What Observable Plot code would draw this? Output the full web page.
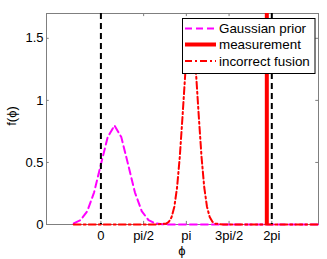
<!DOCTYPE html>
<html>
<head>
<meta charset="utf-8">
<script src="https://cdn.jsdelivr.net/npm/d3@7"></script>
<script src="https://cdn.jsdelivr.net/npm/@observablehq/plot@0.6"></script>
<style>
  html, body { margin: 0; padding: 0; background: #fff; }
  #chart { position: relative; width: 327px; height: 259px; }
  #chart > svg { position: absolute; left: 0; top: 0; }
</style>
</head>
<body>
<div id="chart"></div>
<script>
const xTicks = [0, Math.PI / 2, Math.PI, 3 * Math.PI / 2, 2 * Math.PI];
const xTickLabels = ["0", "pi/2", "pi", "3pi/2", "2pi"];
const yTicks = [0, 0.5, 1, 1.5];
const yTickLabels = ["0", "0.5", "1", "1.5"];

const priorX = [-1, -0.75, -0.5, -0.25, 0, 0.25, 0.5, 0.75, 1, 1.25, 1.5, 1.75, 2, 2.25, 2.5, 3, 4, 5, 6, 7, 8];
const priorY = [0.009, 0.035, 0.108, 0.259, 0.484, 0.704, 0.798, 0.704, 0.484, 0.259, 0.108, 0.035, 0.009, 0.002, 0, 0, 0, 0, 0, 0, 0];

const fusionX = [-1, 0, 1, 2, 2.4, 2.5, 2.6, 2.7, 2.8, 2.9, 3.0, 3.1, 3.2, 3.3, 3.4, 3.5, 3.6, 3.7, 3.8, 3.9, 4.0, 4.1, 4.2, 4.5, 5, 6, 7, 8];
const fusionY = [0, 0, 0, 0, 0.007, 0.022, 0.060, 0.143, 0.298, 0.544, 0.867, 1.210, 1.478, 1.58, 1.478, 1.210, 0.867, 0.544, 0.298, 0.143, 0.060, 0.022, 0.007, 0, 0, 0, 0, 0];

const measurementX = [6.1];
const boundaryX = [0, 2 * Math.PI];

const legendLabels = ["Gaussian prior", "measurement", "incorrect fusion"];
const xLabel = "ϕ";
const yLabel = "f(ϕ)";

const prior = priorX.map((x, i) => ({x, y: priorY[i]}));
const fusion = fusionX.map((x, i) => ({x, y: fusionY[i]}));

const FONT = "'Liberation Sans', Arial, Helvetica, sans-serif";
const axisGray = "#7f7f7f";

const plot = Plot.plot({
  width: 327,
  height: 259,
  marginLeft: 46,
  marginRight: 9,
  marginTop: 13,
  marginBottom: 35,
  style: {fontFamily: FONT, fontSize: "13px", color: "black", background: "white"},
  x: {domain: [-2, 8]},
  y: {domain: [0, 1.7]},
  marks: [
    Plot.frame({stroke: axisGray}),
    Plot.ruleX(xTicks, {y1: 0, y2: 0.025, stroke: axisGray}),
    Plot.ruleX(xTicks, {y1: 1.675, y2: 1.7, stroke: axisGray}),
    Plot.ruleY(yTicks, {x1: -2, x2: -1.9, stroke: axisGray}),
    Plot.ruleY(yTicks, {x1: 7.9, x2: 8, stroke: axisGray}),
    Plot.line(prior, {x: "x", y: "y", stroke: "#ff00ff", strokeWidth: 2, strokeDasharray: "7,4"}),
    Plot.line(fusion, {x: "x", y: "y", stroke: "#ff0000", strokeWidth: 2, strokeDasharray: "7,3,2,3"}),
    Plot.ruleX(measurementX, {stroke: "#ff0000", strokeWidth: 4}),
    Plot.ruleX(boundaryX, {stroke: "black", strokeWidth: 2, strokeDasharray: "6,4"}),
    Plot.axisX(xTicks, {tickSize: 0, tickPadding: 6, tickFormat: d => xTickLabels[xTicks.indexOf(d)], label: null}),
    Plot.axisY(yTicks, {tickSize: 0, tickPadding: 3, tickFormat: d => yTickLabels[yTicks.indexOf(d)], label: null})
  ]
});

const chart = document.getElementById("chart");
chart.appendChild(plot);

// overlay layer for axis titles and legend
const ov = d3.select(chart).append("svg")
  .attr("width", 327).attr("height", 259)
  .style("pointer-events", "none");

ov.append("text")
  .attr("x", 182).attr("y", 254.5)
  .attr("text-anchor", "middle")
  .attr("font-family", FONT).attr("font-size", 13).attr("fill", "black")
  .text(xLabel);
ov.append("text")
  .attr("transform", "translate(16,116) rotate(-90)")
  .attr("text-anchor", "middle")
  .attr("font-family", FONT).attr("font-size", 13).attr("fill", "black")
  .text(yLabel);

ov.append("rect")
  .attr("x", 182.5).attr("y", 18.5).attr("width", 132.5).attr("height", 55)
  .attr("fill", "white").attr("stroke", "black").attr("stroke-width", 1);
const rowsY = [28.5, 44.5, 61];
const styles = [
  {stroke: "#ff00ff", width: 2, dash: "7,4"},
  {stroke: "#ff0000", width: 4, dash: "none"},
  {stroke: "#ff0000", width: 2, dash: "7,3,2,3"}
];
legendLabels.forEach((lab, i) => {
  ov.append("line")
    .attr("x1", 185).attr("x2", 216).attr("y1", rowsY[i]).attr("y2", rowsY[i])
    .attr("stroke", styles[i].stroke).attr("stroke-width", styles[i].width)
    .attr("stroke-dasharray", styles[i].dash);
  ov.append("text")
    .attr("x", 219).attr("y", rowsY[i]).attr("dy", "0.35em")
    .attr("text-anchor", "start")
    .attr("font-family", FONT).attr("font-size", 13.4).attr("fill", "black")
    .text(lab);
});
</script>
</body>
</html>
